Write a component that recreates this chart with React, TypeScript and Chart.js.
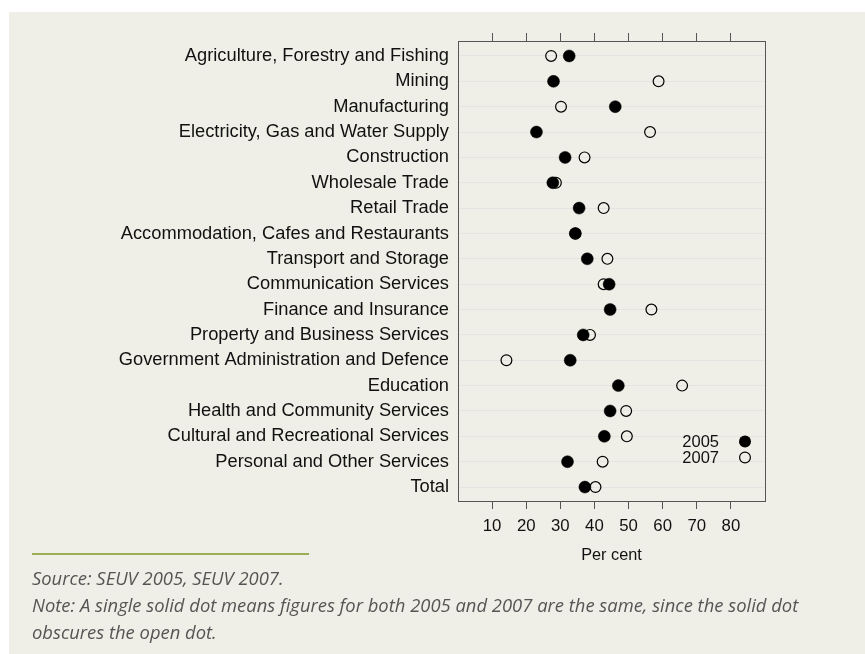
import React, { useEffect, useRef } from "react";
import { Chart, registerables } from "chart.js";

Chart.register(...registerables);

const categories = [
  "Agriculture, Forestry and Fishing",
  "Mining",
  "Manufacturing",
  "Electricity, Gas and Water Supply",
  "Construction",
  "Wholesale Trade",
  "Retail Trade",
  "Accommodation, Cafes and Restaurants",
  "Transport and Storage",
  "Communication Services",
  "Finance and Insurance",
  "Property and Business Services",
  "Government Administration and Defence",
  "Education",
  "Health and Community Services",
  "Cultural and Recreational Services",
  "Personal and Other Services",
  "Total",
];

const values2005 = [32.6, 28.0, 46.1, 23.0, 31.4, 27.8, 35.5, 34.4, 37.9, 44.3, 44.6, 36.7, 32.9, 47.0, 44.6, 42.9, 32.1, 37.2];
const values2007 = [27.3, 58.8, 30.2, 56.3, 37.1, 28.7, 42.7, 34.4, 43.8, 42.7, 56.7, 38.7, 14.2, 65.7, 49.3, 49.5, 42.4, 40.3];

const xTicks = [10, 20, 30, 40, 50, 60, 70, 80];
const seriesLabels = ["2005", "2007"];
const xTitle = "Per cent";
const sourceNote = "Source: SEUV 2005, SEUV 2007.";
const noteText =
  "Note: A single solid dot means figures for both 2005 and 2007 are the same, since the solid dot obscures the open dot.";

const BG = "#efefe7";
const FONT = "'Liberation Sans', Arial, Helvetica, sans-serif";

const inlineLegend = {
  id: "inlineLegend",
  afterDatasetsDraw(chart: any) {
    const { ctx, chartArea } = chart;
    const dotX = chartArea.right - 20;
    const textRight = chartArea.right - 46;
    const rows = [
      { label: seriesLabels[0], y: chartArea.bottom - 59.5, filled: true },
      { label: seriesLabels[1], y: chartArea.bottom - 43.5, filled: false },
    ];
    ctx.save();
    ctx.font = `16.5px ${FONT}`;
    ctx.fillStyle = "#111";
    ctx.textAlign = "right";
    ctx.textBaseline = "middle";
    rows.forEach((r) => {
      ctx.fillText(r.label, textRight, r.y + 1);
      ctx.beginPath();
      if (r.filled) {
        ctx.arc(dotX, r.y, 6, 0, Math.PI * 2);
        ctx.fillStyle = "#000";
        ctx.fill();
        ctx.fillStyle = "#111";
      } else {
        ctx.arc(dotX, r.y, 5.4, 0, Math.PI * 2);
        ctx.lineWidth = 1.2;
        ctx.strokeStyle = "#000";
        ctx.stroke();
      }
    });
    ctx.restore();
  },
};

export default function App() {
  const ref = useRef<HTMLCanvasElement | null>(null);

  useEffect(() => {
    if (!ref.current) return;
    const setXTicks = (scale: any) => {
      scale.ticks = xTicks.map((v) => ({ value: v }));
    };
    const chart = new Chart(ref.current, {
      type: "scatter",
      data: {
        datasets: [
          {
            label: seriesLabels[0],
            data: values2005.map((v, i) => ({ x: v, y: i })),
            pointRadius: 6,
            pointHoverRadius: 6,
            pointBackgroundColor: "#000",
            pointBorderColor: "#000",
            pointBorderWidth: 0.5,
          },
          {
            label: seriesLabels[1],
            data: values2007.map((v, i) => ({ x: v, y: i })),
            pointRadius: 5.4,
            pointHoverRadius: 5.4,
            pointBackgroundColor: "rgba(0,0,0,0)",
            pointBorderColor: "#000",
            pointBorderWidth: 1.2,
          },
        ],
      },
      options: {
        animation: false,
        responsive: false,
        layout: { padding: 0 },
        plugins: {
          legend: { display: false },
          tooltip: { enabled: false },
        },
        scales: {
          x: {
            type: "linear",
            position: "bottom",
            min: 0,
            max: 90,
            afterBuildTicks: setXTicks,
            afterFit: (s: any) => {
              s.height = 570 - 501;
            },
            grid: { drawOnChartArea: false, drawTicks: true, tickLength: 8, color: "#555" },
            border: { display: true, color: "#555", width: 1 },
            ticks: { color: "#111", font: { size: 16.8, family: FONT }, padding: 7, maxRotation: 0 },
            title: {
              display: true,
              text: xTitle,
              color: "#111",
              font: { size: 16.3, family: FONT },
              padding: { top: 0, bottom: 5 },
            },
          },
          x2: {
            type: "linear",
            position: "top",
            min: 0,
            max: 90,
            afterBuildTicks: setXTicks,
            afterFit: (s: any) => {
              s.height = 41;
            },
            grid: { drawOnChartArea: false, drawTicks: true, tickLength: 8, color: "#555" },
            border: { display: true, color: "#555", width: 1 },
            ticks: { display: false },
          },
          y: {
            type: "linear",
            position: "left",
            reverse: true,
            min: -0.59,
            max: 17.55,
            afterBuildTicks: (s: any) => {
              s.ticks = categories.map((_, i) => ({ value: i }));
            },
            afterFit: (s: any) => {
              s.width = 458;
            },
            grid: { drawOnChartArea: true, drawTicks: false, color: "#e4e4e2", lineWidth: 1 },
            border: { display: true, color: "#555", width: 1 },
            ticks: {
              autoSkip: false,
              padding: 9,
              color: "#111",
              font: { size: 18.3, family: FONT },
              callback: (v: any) => categories[v as number] ?? "",
            },
          },
          y2: {
            type: "linear",
            position: "right",
            reverse: true,
            min: -0.59,
            max: 17.55,
            afterFit: (s: any) => {
              s.width = 100;
            },
            grid: { display: false, drawTicks: false },
            border: { display: true, color: "#555", width: 1 },
            ticks: { display: false },
          },
        },
      } as any,
      plugins: [inlineLegend],
    });
    return () => chart.destroy();
  }, []);

  return (
    <div
      style={{
        position: "absolute",
        left: 0,
        top: 0,
        width: 865,
        height: 654,
        background: "#fff",
        overflow: "hidden",
      }}
    >
      <div style={{ position: "absolute", left: 9, top: 12, right: 0, bottom: 0, background: BG }} />
      <canvas
        ref={ref}
        width={865}
        height={570}
        style={{ position: "absolute", left: 0, top: 0, display: "block" }}
      />
      <div style={{ position: "absolute", left: 32, top: 553, width: 277, height: 1.5, background: "#9aae58" }} />
      <div
        style={{
          position: "absolute",
          left: 32,
          top: 564,
          width: 800,
          fontFamily: "'Open Sans', Roboto, sans-serif",
          fontStyle: "italic",
          fontSize: 18.4,
          lineHeight: "27px",
          color: "#555",
        }}
      >
        <div>{sourceNote}</div>
        <div>{noteText}</div>
      </div>
    </div>
  );
}
